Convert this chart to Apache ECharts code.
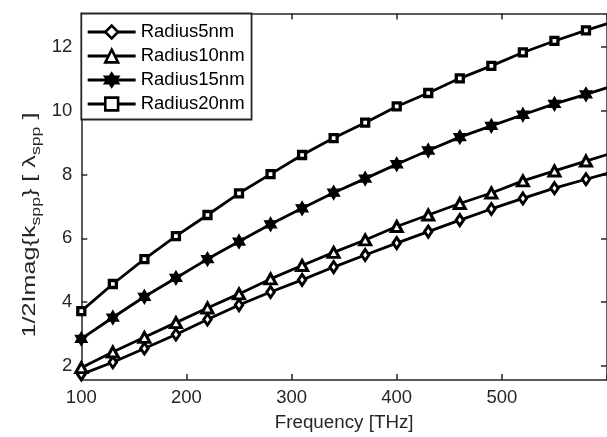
<!DOCTYPE html>
<html>
<head>
<meta charset="utf-8">
<script src="https://cdn.jsdelivr.net/npm/echarts@6/dist/echarts.min.js"></script>
<style>html,body{margin:0;padding:0;background:#fff}#c{width:607px;height:437px}</style>
</head>
<body>
<div id="c"></div>
<script>
// ---- data ----
const freq = [100, 130, 160, 190, 220, 250, 280, 310, 340, 370, 400, 430, 460, 490, 520, 550, 580, 610];
const radius5nm  = [1.74, 2.12, 2.55, 2.99, 3.46, 3.91, 4.32, 4.70, 5.10, 5.48, 5.85, 6.21, 6.57, 6.92, 7.25, 7.57, 7.85, 8.12];
const radius10nm = [1.95, 2.44, 2.90, 3.36, 3.82, 4.26, 4.73, 5.15, 5.56, 5.95, 6.37, 6.73, 7.09, 7.42, 7.80, 8.11, 8.42, 8.72];
const radius15nm = [2.85, 3.52, 4.17, 4.76, 5.35, 5.90, 6.44, 6.94, 7.43, 7.87, 8.32, 8.75, 9.17, 9.52, 9.87, 10.21, 10.51, 10.82];
const radius20nm = [3.72, 4.57, 5.35, 6.07, 6.73, 7.41, 8.01, 8.61, 9.14, 9.62, 10.13, 10.55, 11.01, 11.40, 11.82, 12.18, 12.51, 12.82];
const seriesNames = ['Radius5nm', 'Radius10nm', 'Radius15nm', 'Radius20nm'];
const xTicks = [100, 200, 300, 400, 500, 600];
const xTickLabels = [100, 200, 300, 400, 500];
const yTicks = [2, 4, 6, 8, 10, 12];

const FONT = 'Liberation Sans, Arial, Helvetica, sans-serif';
const AX = '#262626';
const hexagram = 'path://M0,-10 L2.887,-5 L8.660,-5 L5.774,0 L8.660,5 L2.887,5 L0,10 L-2.887,5 L-8.660,5 L-5.774,0 L-8.660,-5 L-2.887,-5 Z';

function pairs(ys) { return freq.map((x, i) => [x, ys[i]]); }

const chart = echarts.init(document.getElementById('c'), null, {renderer: 'canvas'});

const axisCommon = {
  axisLine: {show: true, onZero: false, lineStyle: {color: AX, width: 1.5}},
  splitLine: {show: false}
};

function mkSeries(name, ys, symbol, size, fill, bw) {
  return {
    name, type: 'line', data: pairs(ys), xAxisIndex: 0, yAxisIndex: 0,
    symbol, symbolSize: size, showAllSymbol: true, clip: true,
    lineStyle: {color: '#000', width: 2.8},
    itemStyle: {color: fill, borderColor: '#000', borderWidth: bw},
    emphasis: {disabled: true}, animation: false, z: 3
  };
}

chart.setOption({
  animation: false,
  backgroundColor: '#fff',
  grid: {left: 81.3, right: -6.3, top: 13.5, bottom: 54.5, containLabel: false},
  xAxis: [
    Object.assign({}, axisCommon, {
      type: 'value', min: 100, max: 600, position: 'bottom',
      axisTick: {show: true, inside: true, length: 6, lineStyle: {color: AX, width: 1.5}, customValues: xTicks},
      axisLabel: {show: true, margin: 8, color: AX, fontFamily: FONT, fontSize: 18.5, customValues: xTickLabels},
      name: 'Frequency [THz]', nameLocation: 'middle', nameGap: 33,
      nameTextStyle: {color: AX, fontFamily: FONT, fontSize: 18.8}
    }),
    Object.assign({}, axisCommon, {
      type: 'value', min: 100, max: 600, position: 'top',
      axisTick: {show: true, inside: true, length: 6, lineStyle: {color: AX, width: 1.5}, customValues: xTicks},
      axisLabel: {show: false}
    })
  ],
  yAxis: [
    Object.assign({}, axisCommon, {
      type: 'value', min: 1.564, max: 13.04, position: 'left',
      axisTick: {show: true, inside: true, length: 6, lineStyle: {color: AX, width: 1.5}, customValues: yTicks},
      axisLabel: {show: true, margin: 9, color: AX, fontFamily: FONT, fontSize: 18.5, customValues: yTicks}
    }),
    Object.assign({}, axisCommon, {
      type: 'value', min: 1.564, max: 13.04, position: 'right',
      axisTick: {show: true, inside: true, length: 6, lineStyle: {color: AX, width: 1.5}, customValues: yTicks},
      axisLabel: {show: false}
    })
  ],
  legend: {
    show: true, orient: 'vertical', left: 81.3, top: 13.5,
    data: seriesNames,
    backgroundColor: '#fff', borderColor: AX, borderWidth: 1.8,
    padding: [9, 7, 6, 5],
    itemWidth: 48, itemHeight: 16, itemGap: 5,
    lineStyle: {width: 2.8, color: '#000'},
    itemStyle: {borderColor: '#000', borderWidth: 2.6},
    textStyle: {color: '#000', fontFamily: FONT, fontSize: 18.5},
    selectedMode: false, z: 10
  },
  series: [
    mkSeries(seriesNames[0], radius5nm, 'diamond', [7.5, 11], '#fff', 3),
    mkSeries(seriesNames[1], radius10nm, 'triangle', [11, 10], '#fff', 3),
    mkSeries(seriesNames[2], radius15nm, hexagram, [12, 14], '#000', 1.2),
    mkSeries(seriesNames[3], radius20nm, 'rect', [7, 7], '#fff', 3.3)
  ],
  graphic: [{
    type: 'text', x: 30, y: 225, rotation: Math.PI / 2, scaleX: 1.36, scaleY: 1,
    style: {
      text: '{a|1/2Imag{k}{s|spp}} [ λ{s|spp} ]',
      fill: AX, fontFamily: FONT, fontSize: 18.5, lineHeight: 26,
      align: 'center', verticalAlign: 'middle',
      rich: {
        a: {fontFamily: FONT, fontSize: 18.5, lineHeight: 26, fill: AX},
        s: {fontFamily: FONT, fontSize: 13, verticalAlign: 'bottom', fill: AX}
      }
    }
  }]
});
</script>
</body>
</html>
